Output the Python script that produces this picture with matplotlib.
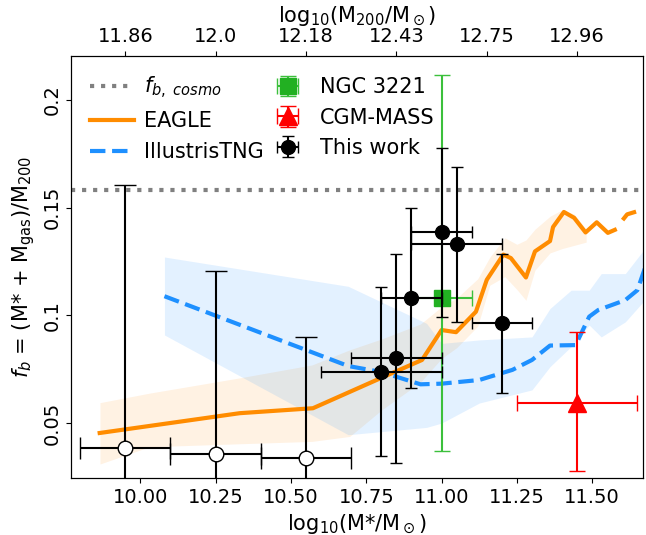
import matplotlib
matplotlib.use("Agg")
import matplotlib.pyplot as plt
import numpy as np

# EAGLE median and scatter
eagle_x = [9.865, 10.33, 10.573, 10.80, 10.935, 11.00, 11.048, 11.114, 11.15, 11.205,
           11.23, 11.28, 11.31, 11.36, 11.37, 11.406, 11.44, 11.478, 11.515, 11.552, 11.575]
eagle_y = [0.0454, 0.0546, 0.0569, 0.0710, 0.0793, 0.0932, 0.0922, 0.1017, 0.1165, 0.1282,
           0.1266, 0.1176, 0.1297, 0.1345, 0.1410, 0.1480, 0.1453, 0.1385, 0.1432, 0.1383, 0.1397]
eagle_tail_x = [11.575, 11.616, 11.70]
eagle_tail_y = [0.1397, 0.1469, 0.1505]
eagle_band_x = [9.866, 10.03, 10.33, 10.57, 10.695, 10.80, 10.93, 11.00, 11.05, 11.12,
                11.16, 11.21, 11.25, 11.28, 11.31, 11.36, 11.40, 11.44, 11.48]
eagle_band_lo = [0.031, 0.039, 0.0404, 0.0415, 0.0438, 0.056, 0.069, 0.080, 0.085, 0.095,
                 0.114, 0.118, 0.112, 0.107, 0.121, 0.129, 0.131, 0.1325, 0.134]
eagle_band_hi = [0.0595, 0.0639, 0.071, 0.077, 0.084, 0.089, 0.096, 0.104, 0.108, 0.117,
                 0.127, 0.136, 0.133, 0.135, 0.140, 0.146, 0.149, 0.147, 0.140]

# IllustrisTNG median and scatter
tng_x = [10.08, 10.69, 10.80, 10.93, 11.00, 11.125, 11.235, 11.30, 11.36, 11.445,
         11.49, 11.52, 11.61, 11.65, 11.68]
tng_y = [0.1089, 0.0765, 0.0737, 0.0680, 0.0683, 0.0700, 0.0747, 0.0793, 0.0860, 0.0862,
         0.0994, 0.1025, 0.1071, 0.1117, 0.1240]
tng_band_x = [10.08, 10.69, 10.95, 11.00, 11.125, 11.30, 11.36, 11.43, 11.49, 11.53, 11.61, 11.68]
tng_band_lo = [0.0909, 0.0446, 0.048, 0.050, 0.0593, 0.0654, 0.0762, 0.0855, 0.0955, 0.090, 0.097, 0.108]
tng_band_hi = [0.1271, 0.1135, 0.0963, 0.087, 0.0886, 0.090, 0.1032, 0.1117, 0.1117, 0.1194, 0.1194, 0.1320]

# this work: detections
tw_x = [10.80, 10.85, 10.90, 11.00, 11.05, 11.20]
tw_y = [0.0739, 0.0801, 0.1083, 0.1387, 0.1330, 0.0963]
tw_xerr = [0.20, 0.15, 0.10, 0.10, 0.15, 0.10]
tw_lo = [0.0345, 0.0315, 0.0665, 0.0994, 0.0968, 0.0639]
tw_hi = [0.1130, 0.1287, 0.1498, 0.1778, 0.1688, 0.1287]

# this work: open symbols
op_x = [9.95, 10.25, 10.55]
op_y = [0.0384, 0.0358, 0.0336]
op_xerr = [0.15, 0.15, 0.15]
op_lo = [0.0, 0.0, 0.0]
op_hi = [0.1603, 0.1205, 0.0901]

# NGC 3221 and CGM-MASS
ngc_x, ngc_y, ngc_xerr, ngc_lo, ngc_hi = 11.0, 0.1083, 0.10, 0.0369, 0.2117
cgm_x, cgm_y, cgm_xerr, cgm_lo, cgm_hi = 11.45, 0.0595, 0.20, 0.0276, 0.0924

fb_cosmo = 0.158

top_tick_pos = [9.95, 10.25, 10.55, 10.85, 11.15, 11.45]
top_tick_labels = ["11.86", "12.0", "12.18", "12.43", "12.75", "12.96"]
y_ticks = [0.05, 0.1, 0.15, 0.2]
y_tick_labels = ["0.05", "0.1", "0.15", "0.2"]


def asym(y, lo, hi):
    y = np.atleast_1d(np.asarray(y, dtype=float))
    return np.vstack([y - np.asarray(lo), np.asarray(hi) - y])


plt.rcParams["font.family"] = "DejaVu Sans"
plt.rcParams["font.size"] = 14

fig = plt.figure(figsize=(6.46, 5.35), dpi=100)
ax = fig.add_axes([0.110, 0.1065, 0.886, 0.7888])

ax.fill_between(eagle_band_x, eagle_band_lo, eagle_band_hi, color="darkorange", alpha=0.11, lw=0)
ax.fill_between(tng_band_x, tng_band_lo, tng_band_hi, color="dodgerblue", alpha=0.12, lw=0)

ax.axhline(fb_cosmo, color="gray", ls=":", lw=3, label=r"$f_{b,\ cosmo}$")
ax.plot(eagle_x, eagle_y, color="darkorange", lw=3, label="EAGLE")
ax.plot(eagle_tail_x, eagle_tail_y, color="darkorange", lw=3, ls=(4, (4, 3)))
ax.plot(tng_x, tng_y, color="dodgerblue", lw=3, ls="--", label="IllustrisTNG")

ax.errorbar(ngc_x, ngc_y, xerr=ngc_xerr, yerr=asym(ngc_y, [ngc_lo], [ngc_hi]),
            fmt="s", color="#22b022", ecolor="#3cc03c", ms=11, capsize=6, elinewidth=1.5,
            label="NGC 3221", zorder=4)
ax.errorbar(cgm_x, cgm_y, xerr=cgm_xerr, yerr=asym(cgm_y, [cgm_lo], [cgm_hi]),
            fmt="^", color="red", ms=13, capsize=6, elinewidth=1.5,
            label="CGM-MASS", zorder=4)
ax.errorbar(tw_x, tw_y, xerr=tw_xerr, yerr=asym(tw_y, tw_lo, tw_hi),
            fmt="o", color="black", ms=10, capsize=4, elinewidth=1.5,
            label="This work", zorder=5)
ax.errorbar(op_x, op_y, xerr=op_xerr, yerr=asym(op_y, op_lo, op_hi),
            fmt="o", color="black", mfc="white", mec="black", ms=10.5, capsize=8,
            elinewidth=1.5, zorder=5)

ax.set_xlim(9.77, 11.67)
ax.set_ylim(0.0245, 0.2204)
ax.set_xticks([10.0, 10.25, 10.5, 10.75, 11.0, 11.25, 11.5])
ax.set_xticklabels(["10.00", "10.25", "10.50", "10.75", "11.00", "11.25", "11.50"])
ax.set_yticks(y_ticks)
ax.set_yticklabels(y_tick_labels, rotation=90, va="center")
ax.set_xlabel(r"log$_{10}$(M*/M$_\odot$)", fontsize=15)
ax.set_ylabel(r"$f_b$ = (M$*$ + M$_{\rm gas}$)/M$_{200}$", fontsize=15)

ax2 = ax.twiny()
ax2.set_xlim(ax.get_xlim())
ax2.set_xticks(top_tick_pos)
ax2.set_xticklabels(top_tick_labels)
ax2.set_xlabel(r"log$_{10}$(M$_{200}$/M$_\odot$)", fontsize=15)

ax.legend(loc="upper left", ncol=2, frameon=False, fontsize=15, handlelength=2.1,
          columnspacing=0.1, labelspacing=0.5, borderaxespad=0.5, handletextpad=0.5)

fig.savefig("out.png", dpi=100)
